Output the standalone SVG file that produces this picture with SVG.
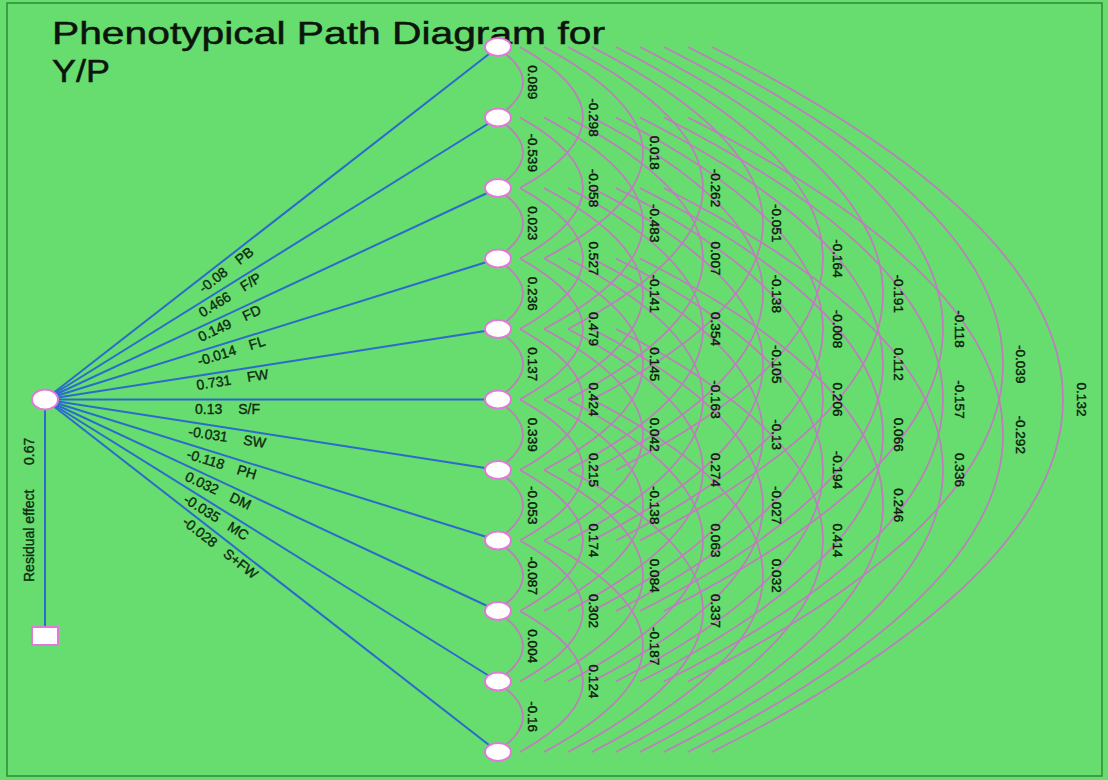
<svg xmlns="http://www.w3.org/2000/svg" width="1108" height="780" viewBox="0 0 1108 780">
<style>
.bg{fill:#67dc6f}
.frame{fill:none;stroke:#2f8a35;stroke-width:1.5}
.path{stroke:#2b6bcb;stroke-width:2;fill:none}
.arc{fill:none;stroke:#c07cbe;stroke-width:1.7}
.node{fill:#ffffff;stroke:#e07ad8;stroke-width:2}
.title{font-family:"Liberation Sans",Arial,sans-serif;font-size:32px;fill:#0c140c;stroke:#0c140c;stroke-width:0.5}
.lbl{font-family:"Liberation Sans",Arial,sans-serif;font-size:14px;fill:#0e2a10;stroke:#0e2a10;stroke-width:0.35}
.cor{font-family:"Liberation Sans",Arial,sans-serif;font-size:13.5px;fill:#0b1a0b;stroke:#0b1a0b;stroke-width:0.4;text-anchor:middle}
</style>
<rect class="bg" x="0" y="0" width="1108" height="780"/>
<rect class="frame" x="7" y="3" width="1095" height="773"/>
<g id="title">
<text class="title" x="52" y="44" textLength="553" lengthAdjust="spacingAndGlyphs">Phenotypical Path Diagram for</text>
<text class="title" x="52" y="82" textLength="58" lengthAdjust="spacingAndGlyphs">Y/P</text>
</g>
<g id="connectors">
<g id="paths">
<line class="path" x1="45" y1="399.5" x2="498" y2="47"/>
<line class="path" x1="45" y1="399.5" x2="498" y2="117.5"/>
<line class="path" x1="45" y1="399.5" x2="498" y2="188"/>
<line class="path" x1="45" y1="399.5" x2="498" y2="258.5"/>
<line class="path" x1="45" y1="399.5" x2="498" y2="329"/>
<line class="path" x1="45" y1="399.5" x2="498" y2="399.5"/>
<line class="path" x1="45" y1="399.5" x2="498" y2="470"/>
<line class="path" x1="45" y1="399.5" x2="498" y2="540.5"/>
<line class="path" x1="45" y1="399.5" x2="498" y2="611"/>
<line class="path" x1="45" y1="399.5" x2="498" y2="681.5"/>
<line class="path" x1="45" y1="399.5" x2="498" y2="752"/>
<line class="path" x1="45" y1="399.5" x2="45" y2="627"/>
</g>
<g id="arcs">
<path class="arc" d="M496 47 Q550 82.25 496 117.5"/>
<path class="arc" d="M496 117.5 Q550 152.75 496 188"/>
<path class="arc" d="M496 188 Q550 223.25 496 258.5"/>
<path class="arc" d="M496 258.5 Q550 293.75 496 329"/>
<path class="arc" d="M496 329 Q550 364.25 496 399.5"/>
<path class="arc" d="M496 399.5 Q550 434.75 496 470"/>
<path class="arc" d="M496 470 Q550 505.25 496 540.5"/>
<path class="arc" d="M496 540.5 Q550 575.75 496 611"/>
<path class="arc" d="M496 611 Q550 646.25 496 681.5"/>
<path class="arc" d="M496 681.5 Q550 716.75 496 752"/>
<path class="arc" d="M520 47 Q646 117.5 520 188"/>
<path class="arc" d="M520 117.5 Q646 188 520 258.5"/>
<path class="arc" d="M520 188 Q646 258.5 520 329"/>
<path class="arc" d="M520 258.5 Q646 329 520 399.5"/>
<path class="arc" d="M520 329 Q646 399.5 520 470"/>
<path class="arc" d="M520 399.5 Q646 470 520 540.5"/>
<path class="arc" d="M520 470 Q646 540.5 520 611"/>
<path class="arc" d="M520 540.5 Q646 611 520 681.5"/>
<path class="arc" d="M520 611 Q646 681.5 520 752"/>
<path class="arc" d="M544 47 Q742 152.75 544 258.5"/>
<path class="arc" d="M544 117.5 Q742 223.25 544 329"/>
<path class="arc" d="M544 188 Q742 293.75 544 399.5"/>
<path class="arc" d="M544 258.5 Q742 364.25 544 470"/>
<path class="arc" d="M544 329 Q742 434.75 544 540.5"/>
<path class="arc" d="M544 399.5 Q742 505.25 544 611"/>
<path class="arc" d="M544 470 Q742 575.75 544 681.5"/>
<path class="arc" d="M544 540.5 Q742 646.25 544 752"/>
<path class="arc" d="M568 47 Q838 188 568 329"/>
<path class="arc" d="M568 117.5 Q838 258.5 568 399.5"/>
<path class="arc" d="M568 188 Q838 329 568 470"/>
<path class="arc" d="M568 258.5 Q838 399.5 568 540.5"/>
<path class="arc" d="M568 329 Q838 470 568 611"/>
<path class="arc" d="M568 399.5 Q838 540.5 568 681.5"/>
<path class="arc" d="M568 470 Q838 611 568 752"/>
<path class="arc" d="M592 47 Q934 223.25 592 399.5"/>
<path class="arc" d="M592 117.5 Q934 293.75 592 470"/>
<path class="arc" d="M592 188 Q934 364.25 592 540.5"/>
<path class="arc" d="M592 258.5 Q934 434.75 592 611"/>
<path class="arc" d="M592 329 Q934 505.25 592 681.5"/>
<path class="arc" d="M592 399.5 Q934 575.75 592 752"/>
<path class="arc" d="M616 47 Q1030 258.5 616 470"/>
<path class="arc" d="M616 117.5 Q1030 329 616 540.5"/>
<path class="arc" d="M616 188 Q1030 399.5 616 611"/>
<path class="arc" d="M616 258.5 Q1030 470 616 681.5"/>
<path class="arc" d="M616 329 Q1030 540.5 616 752"/>
<path class="arc" d="M640 47 Q1126 293.75 640 540.5"/>
<path class="arc" d="M640 117.5 Q1126 364.25 640 611"/>
<path class="arc" d="M640 188 Q1126 434.75 640 681.5"/>
<path class="arc" d="M640 258.5 Q1126 505.25 640 752"/>
<path class="arc" d="M664 47 Q1222 329 664 611"/>
<path class="arc" d="M664 117.5 Q1222 399.5 664 681.5"/>
<path class="arc" d="M664 188 Q1222 470 664 752"/>
<path class="arc" d="M688 47 Q1318 364.25 688 681.5"/>
<path class="arc" d="M688 117.5 Q1318 434.75 688 752"/>
<path class="arc" d="M712 47 Q1414 399.5 712 752"/>
</g>
</g>
<g id="path-labels">
<text class="lbl" transform="translate(203.6,293.5) rotate(-37.95)">-0.08<tspan dx="14">PB</tspan></text>
<text class="lbl" transform="translate(202.4,317.8) rotate(-31.96)">0.466<tspan dx="14">F/P</tspan></text>
<text class="lbl" transform="translate(200.9,342) rotate(-25.07)">0.149<tspan dx="14">FD</tspan></text>
<text class="lbl" transform="translate(199.2,366.1) rotate(-17.33)">-0.014<tspan dx="14">FL</tspan></text>
<text class="lbl" transform="translate(197.2,389.9) rotate(-8.87)">0.731<tspan dx="16">FW</tspan></text>
<text class="lbl" transform="translate(195,413.5)">0.13<tspan dx="16">S/F</tspan></text>
<text class="lbl" transform="translate(187.8,435.9) rotate(8.87)">-0.031<tspan dx="16">SW</tspan></text>
<text class="lbl" transform="translate(185.8,458.1) rotate(17.33)">-0.118<tspan dx="14">PH</tspan></text>
<text class="lbl" transform="translate(184.1,480) rotate(25.07)">0.032<tspan dx="14">DM</tspan></text>
<text class="lbl" transform="translate(182.6,501.9) rotate(31.96)">-0.035<tspan dx="12">MC</tspan></text>
<text class="lbl" transform="translate(181.4,523.6) rotate(37.95)">-0.028<tspan dx="12">S+FW</tspan></text>
<text class="lbl" transform="translate(34,582) rotate(-90)">Residual effect<tspan x="117">0.67</tspan></text>
</g>
<g id="corr-labels">
<text class="cor" transform="translate(528,82.25) rotate(90)">0.089</text>
<text class="cor" transform="translate(528,152.75) rotate(90)">-0.539</text>
<text class="cor" transform="translate(528,223.25) rotate(90)">0.023</text>
<text class="cor" transform="translate(528,293.75) rotate(90)">0.236</text>
<text class="cor" transform="translate(528,364.25) rotate(90)">0.137</text>
<text class="cor" transform="translate(528,434.75) rotate(90)">0.339</text>
<text class="cor" transform="translate(528,505.25) rotate(90)">-0.053</text>
<text class="cor" transform="translate(528,575.75) rotate(90)">-0.087</text>
<text class="cor" transform="translate(528,646.25) rotate(90)">0.004</text>
<text class="cor" transform="translate(528,716.75) rotate(90)">-0.16</text>
<text class="cor" transform="translate(589,117.5) rotate(90)">-0.298</text>
<text class="cor" transform="translate(589,188) rotate(90)">-0.058</text>
<text class="cor" transform="translate(589,258.5) rotate(90)">0.527</text>
<text class="cor" transform="translate(589,329) rotate(90)">0.479</text>
<text class="cor" transform="translate(589,399.5) rotate(90)">0.424</text>
<text class="cor" transform="translate(589,470) rotate(90)">0.215</text>
<text class="cor" transform="translate(589,540.5) rotate(90)">0.174</text>
<text class="cor" transform="translate(589,611) rotate(90)">0.302</text>
<text class="cor" transform="translate(589,681.5) rotate(90)">0.124</text>
<text class="cor" transform="translate(650,152.75) rotate(90)">0.018</text>
<text class="cor" transform="translate(650,223.25) rotate(90)">-0.483</text>
<text class="cor" transform="translate(650,293.75) rotate(90)">-0.141</text>
<text class="cor" transform="translate(650,364.25) rotate(90)">0.145</text>
<text class="cor" transform="translate(650,434.75) rotate(90)">0.042</text>
<text class="cor" transform="translate(650,505.25) rotate(90)">-0.138</text>
<text class="cor" transform="translate(650,575.75) rotate(90)">0.084</text>
<text class="cor" transform="translate(650,646.25) rotate(90)">-0.187</text>
<text class="cor" transform="translate(711,188) rotate(90)">-0.262</text>
<text class="cor" transform="translate(711,258.5) rotate(90)">0.007</text>
<text class="cor" transform="translate(711,329) rotate(90)">0.354</text>
<text class="cor" transform="translate(711,399.5) rotate(90)">-0.163</text>
<text class="cor" transform="translate(711,470) rotate(90)">0.274</text>
<text class="cor" transform="translate(711,540.5) rotate(90)">0.063</text>
<text class="cor" transform="translate(711,611) rotate(90)">0.337</text>
<text class="cor" transform="translate(772,223.25) rotate(90)">-0.051</text>
<text class="cor" transform="translate(772,293.75) rotate(90)">-0.138</text>
<text class="cor" transform="translate(772,364.25) rotate(90)">-0.105</text>
<text class="cor" transform="translate(772,434.75) rotate(90)">-0.13</text>
<text class="cor" transform="translate(772,505.25) rotate(90)">-0.027</text>
<text class="cor" transform="translate(772,575.75) rotate(90)">0.032</text>
<text class="cor" transform="translate(833,258.5) rotate(90)">-0.164</text>
<text class="cor" transform="translate(833,329) rotate(90)">-0.008</text>
<text class="cor" transform="translate(833,399.5) rotate(90)">0.206</text>
<text class="cor" transform="translate(833,470) rotate(90)">-0.194</text>
<text class="cor" transform="translate(833,540.5) rotate(90)">0.414</text>
<text class="cor" transform="translate(894,293.75) rotate(90)">-0.191</text>
<text class="cor" transform="translate(894,364.25) rotate(90)">0.112</text>
<text class="cor" transform="translate(894,434.75) rotate(90)">0.066</text>
<text class="cor" transform="translate(894,505.25) rotate(90)">0.246</text>
<text class="cor" transform="translate(955,329) rotate(90)">-0.118</text>
<text class="cor" transform="translate(955,399.5) rotate(90)">-0.157</text>
<text class="cor" transform="translate(955,470) rotate(90)">0.336</text>
<text class="cor" transform="translate(1016,364.25) rotate(90)">-0.039</text>
<text class="cor" transform="translate(1016,434.75) rotate(90)">-0.292</text>
<text class="cor" transform="translate(1077,399.5) rotate(90)">0.132</text>
</g>
<g id="node-Y">
<ellipse class="node" cx="45" cy="399.5" rx="13" ry="10"/>
</g>
<g id="node-residual">
<rect class="node" x="32" y="627" width="26" height="18"/>
</g>
<g id="node-PB"><ellipse class="node" cx="498" cy="47" rx="13" ry="9"/></g>
<g id="node-FP"><ellipse class="node" cx="498" cy="117.5" rx="13" ry="9"/></g>
<g id="node-FD"><ellipse class="node" cx="498" cy="188" rx="13" ry="9"/></g>
<g id="node-FL"><ellipse class="node" cx="498" cy="258.5" rx="13" ry="9"/></g>
<g id="node-FW"><ellipse class="node" cx="498" cy="329" rx="13" ry="9"/></g>
<g id="node-SF"><ellipse class="node" cx="498" cy="399.5" rx="13" ry="9"/></g>
<g id="node-SW"><ellipse class="node" cx="498" cy="470" rx="13" ry="9"/></g>
<g id="node-PH"><ellipse class="node" cx="498" cy="540.5" rx="13" ry="9"/></g>
<g id="node-DM"><ellipse class="node" cx="498" cy="611" rx="13" ry="9"/></g>
<g id="node-MC"><ellipse class="node" cx="498" cy="681.5" rx="13" ry="9"/></g>
<g id="node-SFW"><ellipse class="node" cx="498" cy="752" rx="13" ry="9"/></g>
</svg>
